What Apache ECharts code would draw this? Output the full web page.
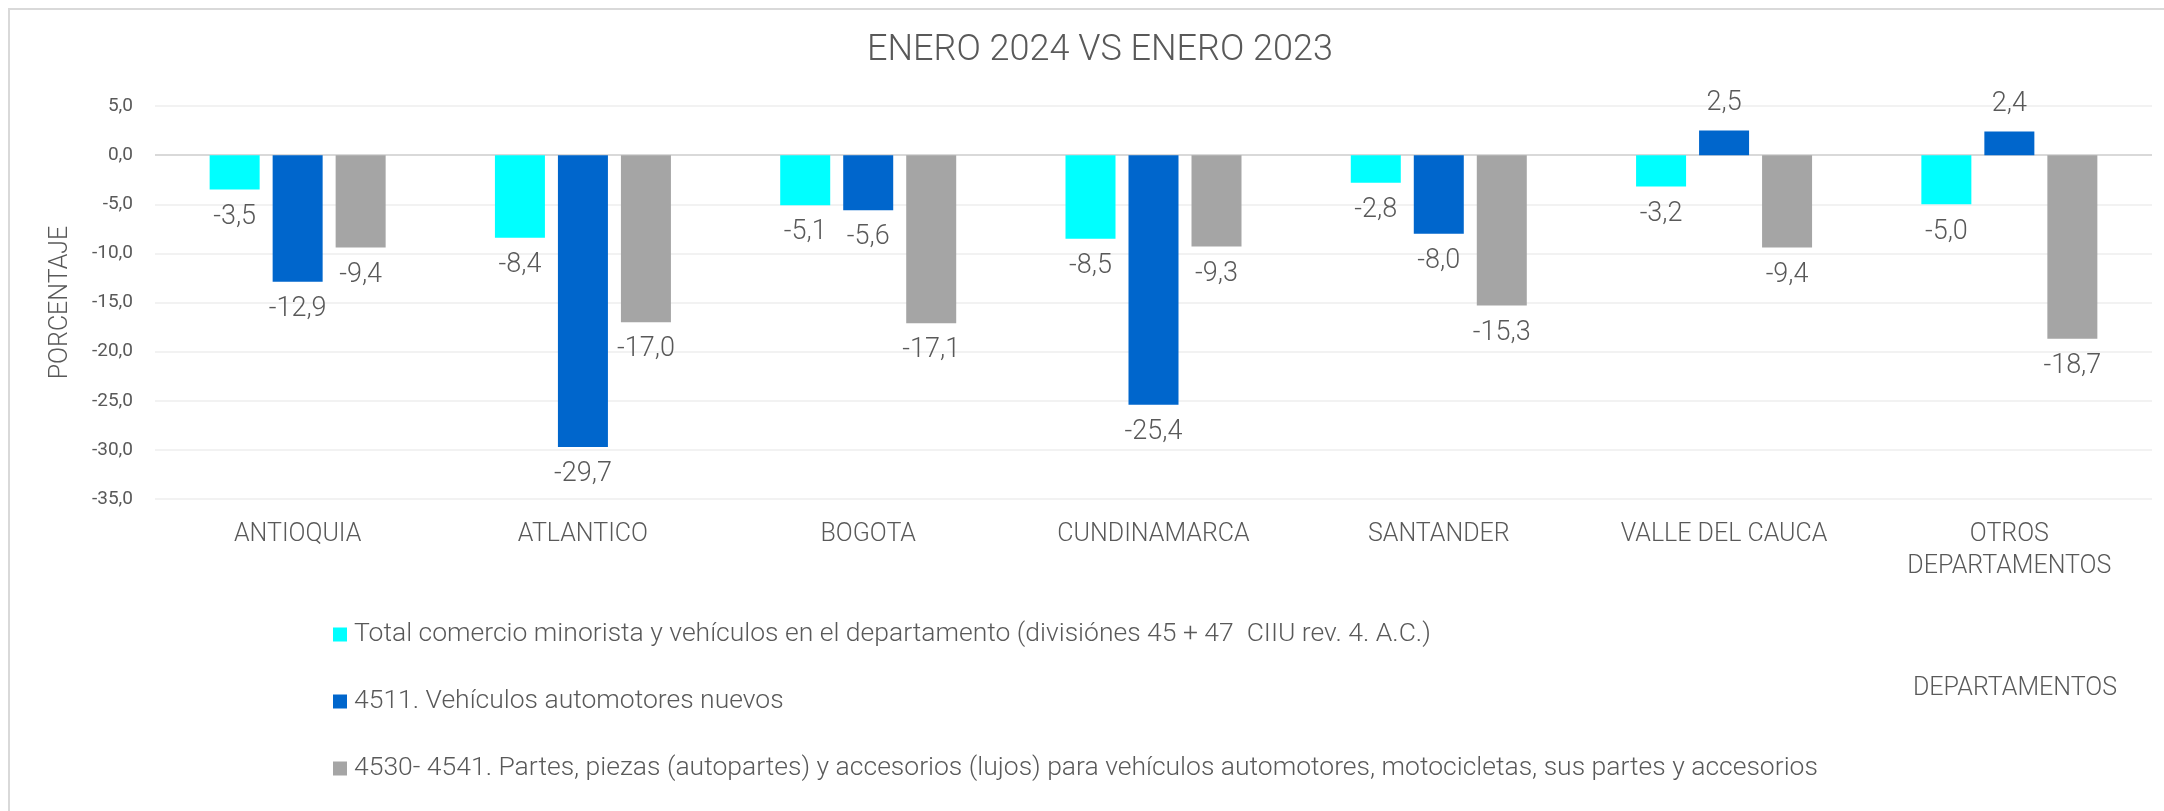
<!DOCTYPE html>
<html>
<head>
<meta charset="utf-8">
<script src="https://cdn.jsdelivr.net/npm/echarts@6/dist/echarts.min.js"></script>
<style>
  html, body { margin: 0; padding: 0; background: #fff; }
  #chart { width: 2164px; height: 811px; }
  #frame { position: absolute; left: 8px; top: 8px; width: 2170px; height: 820px; border: 2px solid #d9d9d9; box-sizing: border-box; pointer-events: none; }
</style>
</head>
<body>
<div id="chart"></div>
<div id="frame"></div>
<script>
// categorias (departamentos)
const departamentos = ['ANTIOQUIA', 'ATLANTICO', 'BOGOTA', 'CUNDINAMARCA', 'SANTANDER', 'VALLE DEL CAUCA', 'OTROS\nDEPARTAMENTOS'];

// nombres de las series
const nombreTotal = 'Total comercio minorista y vehículos en el departamento (divisiónes 45 + 47  CIIU rev. 4. A.C.)';
const nombreVehiculos = '4511. Vehículos automotores nuevos';
const nombrePartes = '4530- 4541. Partes, piezas (autopartes) y accesorios (lujos) para vehículos automotores, motocicletas, sus partes y accesorios';

// variacion porcentual enero 2024 vs enero 2023
const totalComercio = [-3.5, -8.4, -5.1, -8.5, -2.8, -3.2, -5.0];
const vehiculosNuevos = [-12.9, -29.7, -5.6, -25.4, -8.0, 2.5, 2.4];
const partesAccesorios = [-9.4, -17.0, -17.1, -9.3, -15.3, -9.4, -18.7];

// eje y
const yMin = -35;
const yMax = 5;
const yPaso = 5;

const fuente = 'Roboto';
const gris = '#595959';

function coma(v) {
    return v.toFixed(1).replace('.', ',');
}

// linea del cero un poco mas oscura
const nLineas = (yMax - yMin) / yPaso + 1;
const coloresGrid = [];
for (let i = 0; i < nLineas; i++) {
    coloresGrid.push(yMin + i * yPaso === 0 ? '#d9d9d9' : '#f2f2f2');
}

function serie(nombre, datos, color) {
    return {
        name: nombre,
        type: 'bar',
        barWidth: 50,
        barGap: '26%',
        itemStyle: { color: color },
        data: datos.map(function (v) {
            return {
                value: v,
                label: { position: v < 0 ? 'bottom' : 'top' }
            };
        }),
        label: {
            show: true,
            distance: 14,
            color: gris,
            fontFamily: fuente,
            fontWeight: 300,
            fontSize: 27,
            formatter: function (p) { return coma(p.value); }
        }
    };
}

const myChart = echarts.init(document.getElementById('chart'));

myChart.setOption({
    animation: false,
    title: [
        {
            text: 'ENERO 2024 VS ENERO 2023',
            left: 1095,
            top: 28,
            textAlign: 'center',
            textStyle: {
                color: gris,
                fontFamily: fuente,
                fontWeight: 300,
                fontSize: 36
            }
        },
        {
            text: 'DEPARTAMENTOS',
            left: 2010,
            top: 671,
            textAlign: 'center',
            textStyle: {
                color: gris,
                fontFamily: fuente,
                fontWeight: 300,
                fontSize: 25
            }
        }
    ],
    legend: {
        orient: 'vertical',
        left: 328,
        top: 616,
        itemWidth: 14,
        itemHeight: 14,
        itemGap: 40,
        icon: 'rect',
        textStyle: {
            color: gris,
            fontFamily: fuente,
            fontWeight: 300,
            fontSize: 26.5,
            lineHeight: 26,
            padding: [0, 0, 0, 2]
        },
        data: [nombreTotal, nombreVehiculos, nombrePartes]
    },
    grid: {
        left: 155,
        right: 12,
        top: 106,
        bottom: 312,
        containLabel: false
    },
    xAxis: {
        type: 'category',
        data: departamentos,
        position: 'bottom',
        axisLine: { show: false },
        axisTick: { show: false },
        axisLabel: {
            margin: 20,
            color: gris,
            fontFamily: fuente,
            fontWeight: 300,
            fontSize: 25,
            lineHeight: 32,
            interval: 0
        }
    },
    yAxis: {
        type: 'value',
        min: yMin,
        max: yMax,
        interval: yPaso,
        name: 'PORCENTAJE',
        nameLocation: 'middle',
        nameGap: 82,
        nameTextStyle: {
            color: gris,
            fontFamily: fuente,
            fontWeight: 300,
            fontSize: 25
        },
        axisLine: { show: false },
        axisTick: { show: false },
        axisLabel: {
            margin: 22,
            color: gris,
            fontFamily: fuente,
            fontSize: 19,
            formatter: function (v) { return coma(v); }
        },
        splitLine: {
            lineStyle: { color: coloresGrid, width: 2 }
        }
    },
    series: [
        serie(nombreTotal, totalComercio, '#00ffff'),
        serie(nombreVehiculos, vehiculosNuevos, '#0066cc'),
        serie(nombrePartes, partesAccesorios, '#a5a5a5')
    ]
});
</script>
</body>
</html>
